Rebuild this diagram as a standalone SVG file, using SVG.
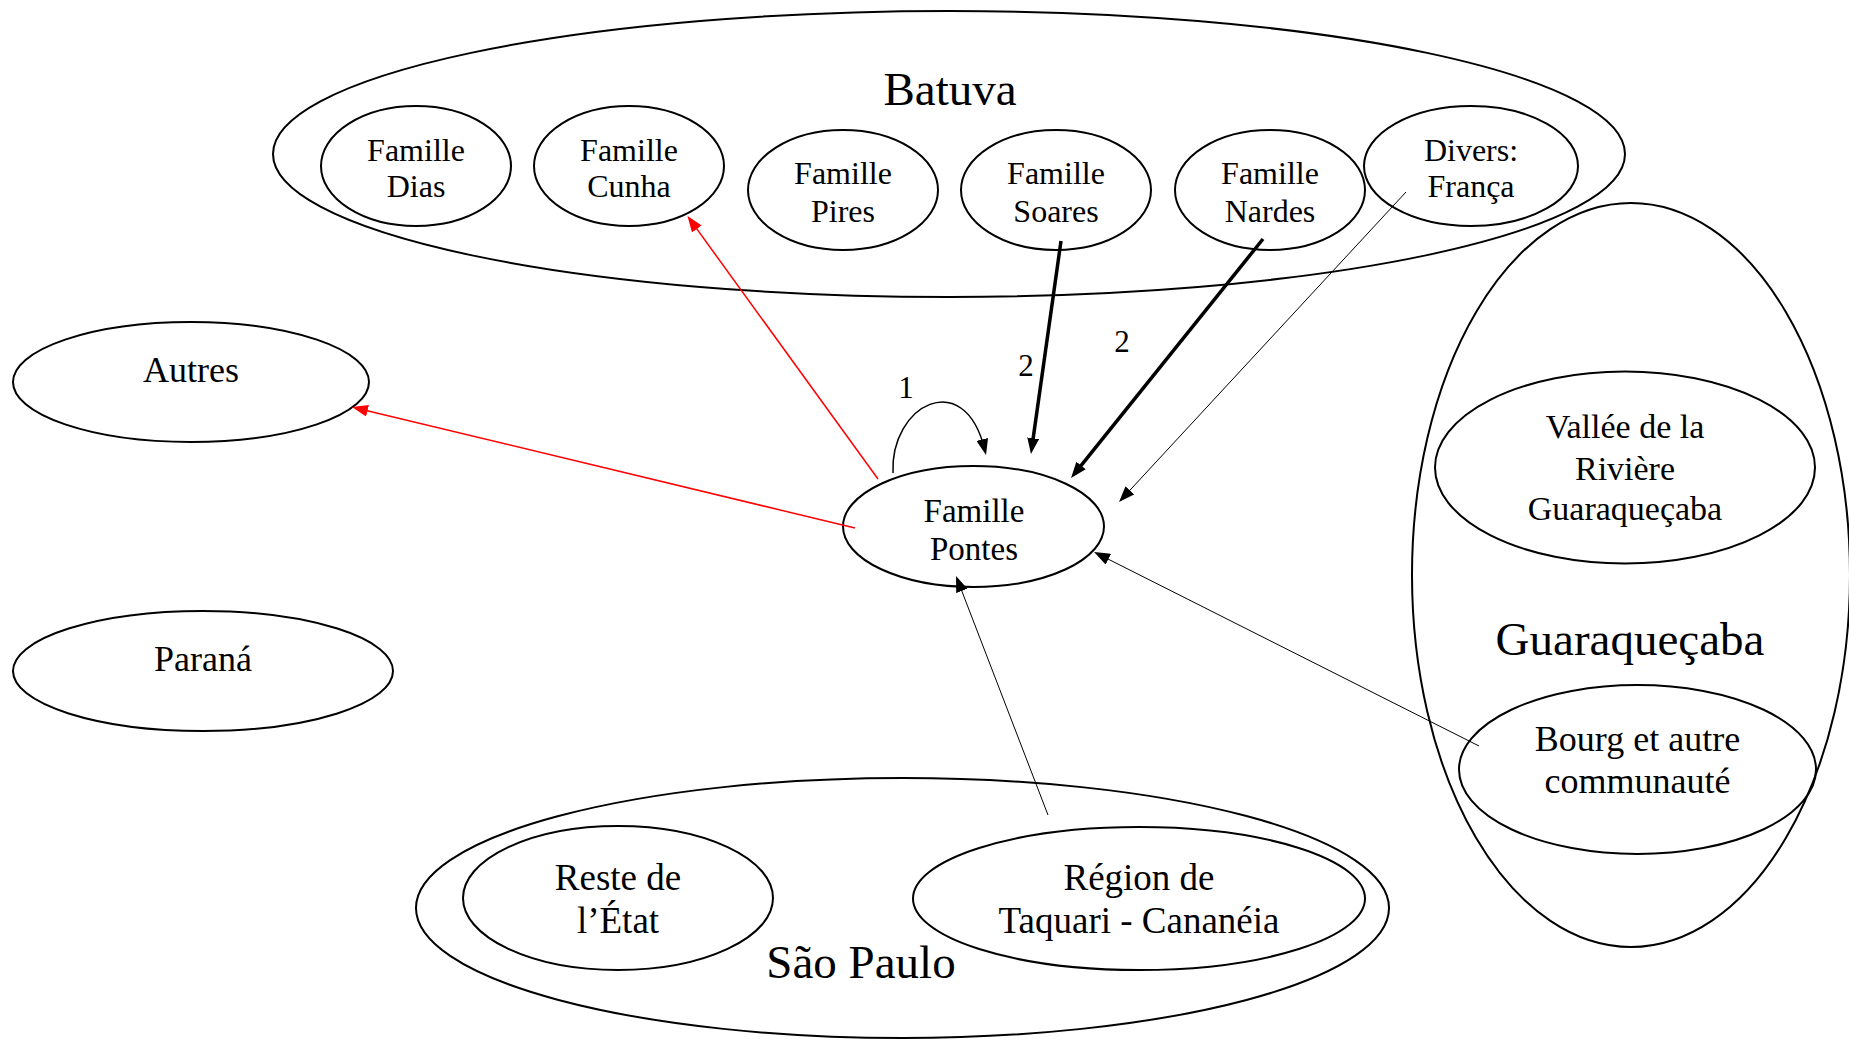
<svg xmlns="http://www.w3.org/2000/svg" width="1849" height="1040" viewBox="0 0 1849 1040">
<style>
  .n { fill: none; stroke: #000; stroke-width: 2; }
  text { font-family: "Liberation Serif", "Times New Roman", serif; fill: #000; text-anchor: middle; }
  .s32 { font-size: 32px; }
  .s33 { font-size: 33px; }
  .s34 { font-size: 34px; }
  .s36 { font-size: 36px; }
  .s37 { font-size: 37px; }
  .s47 { font-size: 47px; }
  .lbl { font-size: 31px; }
  .thin { fill: none; stroke: #000; stroke-width: 1; }
  .mid { fill: none; stroke: #000; stroke-width: 1.5; }
  .thick { fill: none; stroke: #000; stroke-width: 3.5; }
  .red { fill: none; stroke: #ff0000; stroke-width: 1.5; }
</style>
<defs>
  <marker id="ah" markerUnits="userSpaceOnUse" markerWidth="16" markerHeight="12" refX="10" refY="6" orient="auto">
    <path d="M0,0 L16,6 L0,12 z" fill="#000"/>
  </marker>
  <marker id="ahr" markerUnits="userSpaceOnUse" markerWidth="16" markerHeight="12" refX="10" refY="6" orient="auto">
    <path d="M0,0 L16,6 L0,12 z" fill="#ff0000"/>
  </marker>
</defs>
<rect width="1849" height="1040" fill="#fff"/>

<g id="batuva">
  <ellipse class="n" cx="949" cy="154" rx="676" ry="143"/>
  <text class="s47" x="950" y="105">Batuva</text>
</g>
<g id="famille-dias">
  <ellipse class="n" cx="416" cy="166" rx="95" ry="60"/>
  <text class="s32" x="416" y="161">Famille</text>
  <text class="s32" x="416" y="197">Dias</text>
</g>
<g id="famille-cunha">
  <ellipse class="n" cx="629" cy="166" rx="95" ry="60"/>
  <text class="s32" x="629" y="161">Famille</text>
  <text class="s32" x="629" y="197">Cunha</text>
</g>
<g id="famille-pires">
  <ellipse class="n" cx="843" cy="190" rx="95" ry="60"/>
  <text class="s32" x="843" y="184">Famille</text>
  <text class="s32" x="843" y="222">Pires</text>
</g>
<g id="famille-soares">
  <ellipse class="n" cx="1056" cy="190" rx="95" ry="60"/>
  <text class="s32" x="1056" y="184">Famille</text>
  <text class="s32" x="1056" y="222">Soares</text>
</g>
<g id="famille-nardes">
  <ellipse class="n" cx="1270" cy="190" rx="95" ry="60"/>
  <text class="s32" x="1270" y="184">Famille</text>
  <text class="s32" x="1270" y="222">Nardes</text>
</g>
<g id="divers-franca">
  <ellipse class="n" cx="1471" cy="166" rx="107" ry="60"/>
  <text class="s32" x="1471" y="161">Divers:</text>
  <text class="s32" x="1471" y="197">França</text>
</g>

<g id="autres">
  <ellipse class="n" cx="191" cy="382" rx="178" ry="60"/>
  <text class="s36" x="191" y="382">Autres</text>
</g>
<g id="parana">
  <ellipse class="n" cx="203" cy="671" rx="190" ry="60"/>
  <text class="s36" x="203" y="671">Paraná</text>
</g>

<g id="famille-pontes">
  <ellipse class="n" cx="973.5" cy="526.5" rx="130.5" ry="60.5"/>
  <text class="s33" x="974" y="522">Famille</text>
  <text class="s33" x="974" y="560">Pontes</text>
</g>

<g id="guaraquecaba">
  <ellipse class="n" cx="1631" cy="575" rx="219" ry="372"/>
  <text class="s47" x="1630" y="655">Guaraqueçaba</text>
</g>
<g id="vallee">
  <ellipse class="n" cx="1625" cy="467.5" rx="190" ry="96"/>
  <text class="s34" x="1625" y="438">Vallée de la</text>
  <text class="s34" x="1625" y="480">Rivière</text>
  <text class="s34" x="1625" y="520">Guaraqueçaba</text>
</g>
<g id="bourg">
  <ellipse class="n" cx="1637.5" cy="769.5" rx="178.5" ry="84.5"/>
  <text class="s36" x="1637.5" y="751">Bourg et autre</text>
  <text class="s36" x="1637.5" y="793">communauté</text>
</g>

<g id="sao-paulo">
  <ellipse class="n" cx="902.5" cy="908" rx="486.5" ry="130"/>
  <text class="s47" x="861" y="978">São Paulo</text>
</g>
<g id="reste-etat">
  <ellipse class="n" cx="618" cy="898" rx="155" ry="72"/>
  <text class="s37" x="618" y="890">Reste de</text>
  <text class="s37" x="618" y="933">l’État</text>
</g>
<g id="region-taquari">
  <ellipse class="n" cx="1139" cy="898.5" rx="226" ry="71.5"/>
  <text class="s37" x="1139" y="890">Région de</text>
  <text class="s37" x="1139" y="933">Taquari - Cananéia</text>
</g>

<g id="connectors">
  <path class="red" d="M855,528 L357.8,408.4" marker-end="url(#ahr)"/>
  <path class="red" d="M878,479 L691,220.9" marker-end="url(#ahr)"/>
  <path class="mid" d="M893,473 C890,405 964,366 984.6,449.2" marker-end="url(#ah)"/>
  <path class="thick" d="M1061,241 L1031.8,448.1" marker-end="url(#ah)"/>
  <path class="thick" d="M1263,239 L1074.8,473.3" marker-end="url(#ah)"/>
  <path class="thin" d="M1406,192 L1123.1,497.6" marker-end="url(#ah)"/>
  <path class="thin" d="M1479,746 L1099.4,554.7" marker-end="url(#ah)"/>
  <path class="thin" d="M1048,815 L958.2,581.6" marker-end="url(#ah)"/>
  <text class="lbl" x="906" y="398">1</text>
  <text class="lbl" x="1026" y="376">2</text>
  <text class="lbl" x="1122" y="352">2</text>
</g>
</svg>
